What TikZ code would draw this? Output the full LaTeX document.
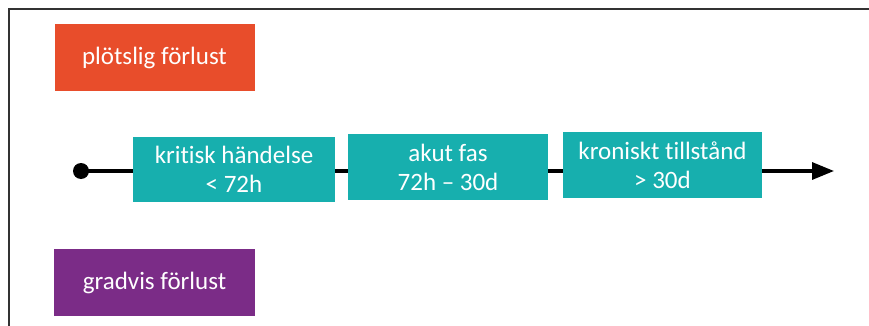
\documentclass[tikz,border=0pt]{standalone}
\usepackage{fontspec}
\setmainfont{Carlito}[RawFeature=-liga]
\usetikzlibrary{arrows.meta}
\definecolor{corange}{HTML}{E84D2B}
\definecolor{cpurple}{HTML}{7B2C87}
\definecolor{cteal}{HTML}{17AFAE}
\begin{document}
\begin{tikzpicture}[x=1pt,y=-1pt,
  box/.style={fill=#1,text=white,inner sep=0pt,align=center,
    font=\fontsize{25}{29}\selectfont},
  timeline/.style={line width=3.3pt,black}]
\useasboundingbox (0,0) rectangle (869,326);
\fill[white] (0,0) rectangle (869,326);
\draw[line width=1.3pt,black!80] (9,326) -- (9,9) -- (869,9);
\node[box=corange,minimum width=200pt,minimum height=67pt] (sud) at (154.5,57.5) {plötslig förlust};
\node[box=cpurple,minimum width=201pt,minimum height=67pt] (grad) at (154.5,282.5) {gradvis förlust};
\node[box=cteal,minimum width=202pt,minimum height=65pt] (krit) at (234,169.5) {kritisk händelse\\< 72h};
\node[box=cteal,minimum width=200pt,minimum height=66pt] (akut) at (448,167) {akut fas\\72h -- 30d};
\node[box=cteal,minimum width=199pt,minimum height=66pt] (kron) at (662.5,165) {kroniskt tillstånd\\> 30d};
\coordinate (start) at (81,171);
\coordinate (end) at (834,171);
\fill (start) circle (8pt);
\draw[timeline] (start) -- (krit.west |- start);
\draw[timeline] (krit.east |- start) -- (akut.west |- start);
\draw[timeline] (akut.east |- start) -- (kron.west |- start);
\draw[timeline,-{Triangle[length=22pt,width=17pt]}] (kron.east |- start) -- (end);
\end{tikzpicture}
\end{document}
